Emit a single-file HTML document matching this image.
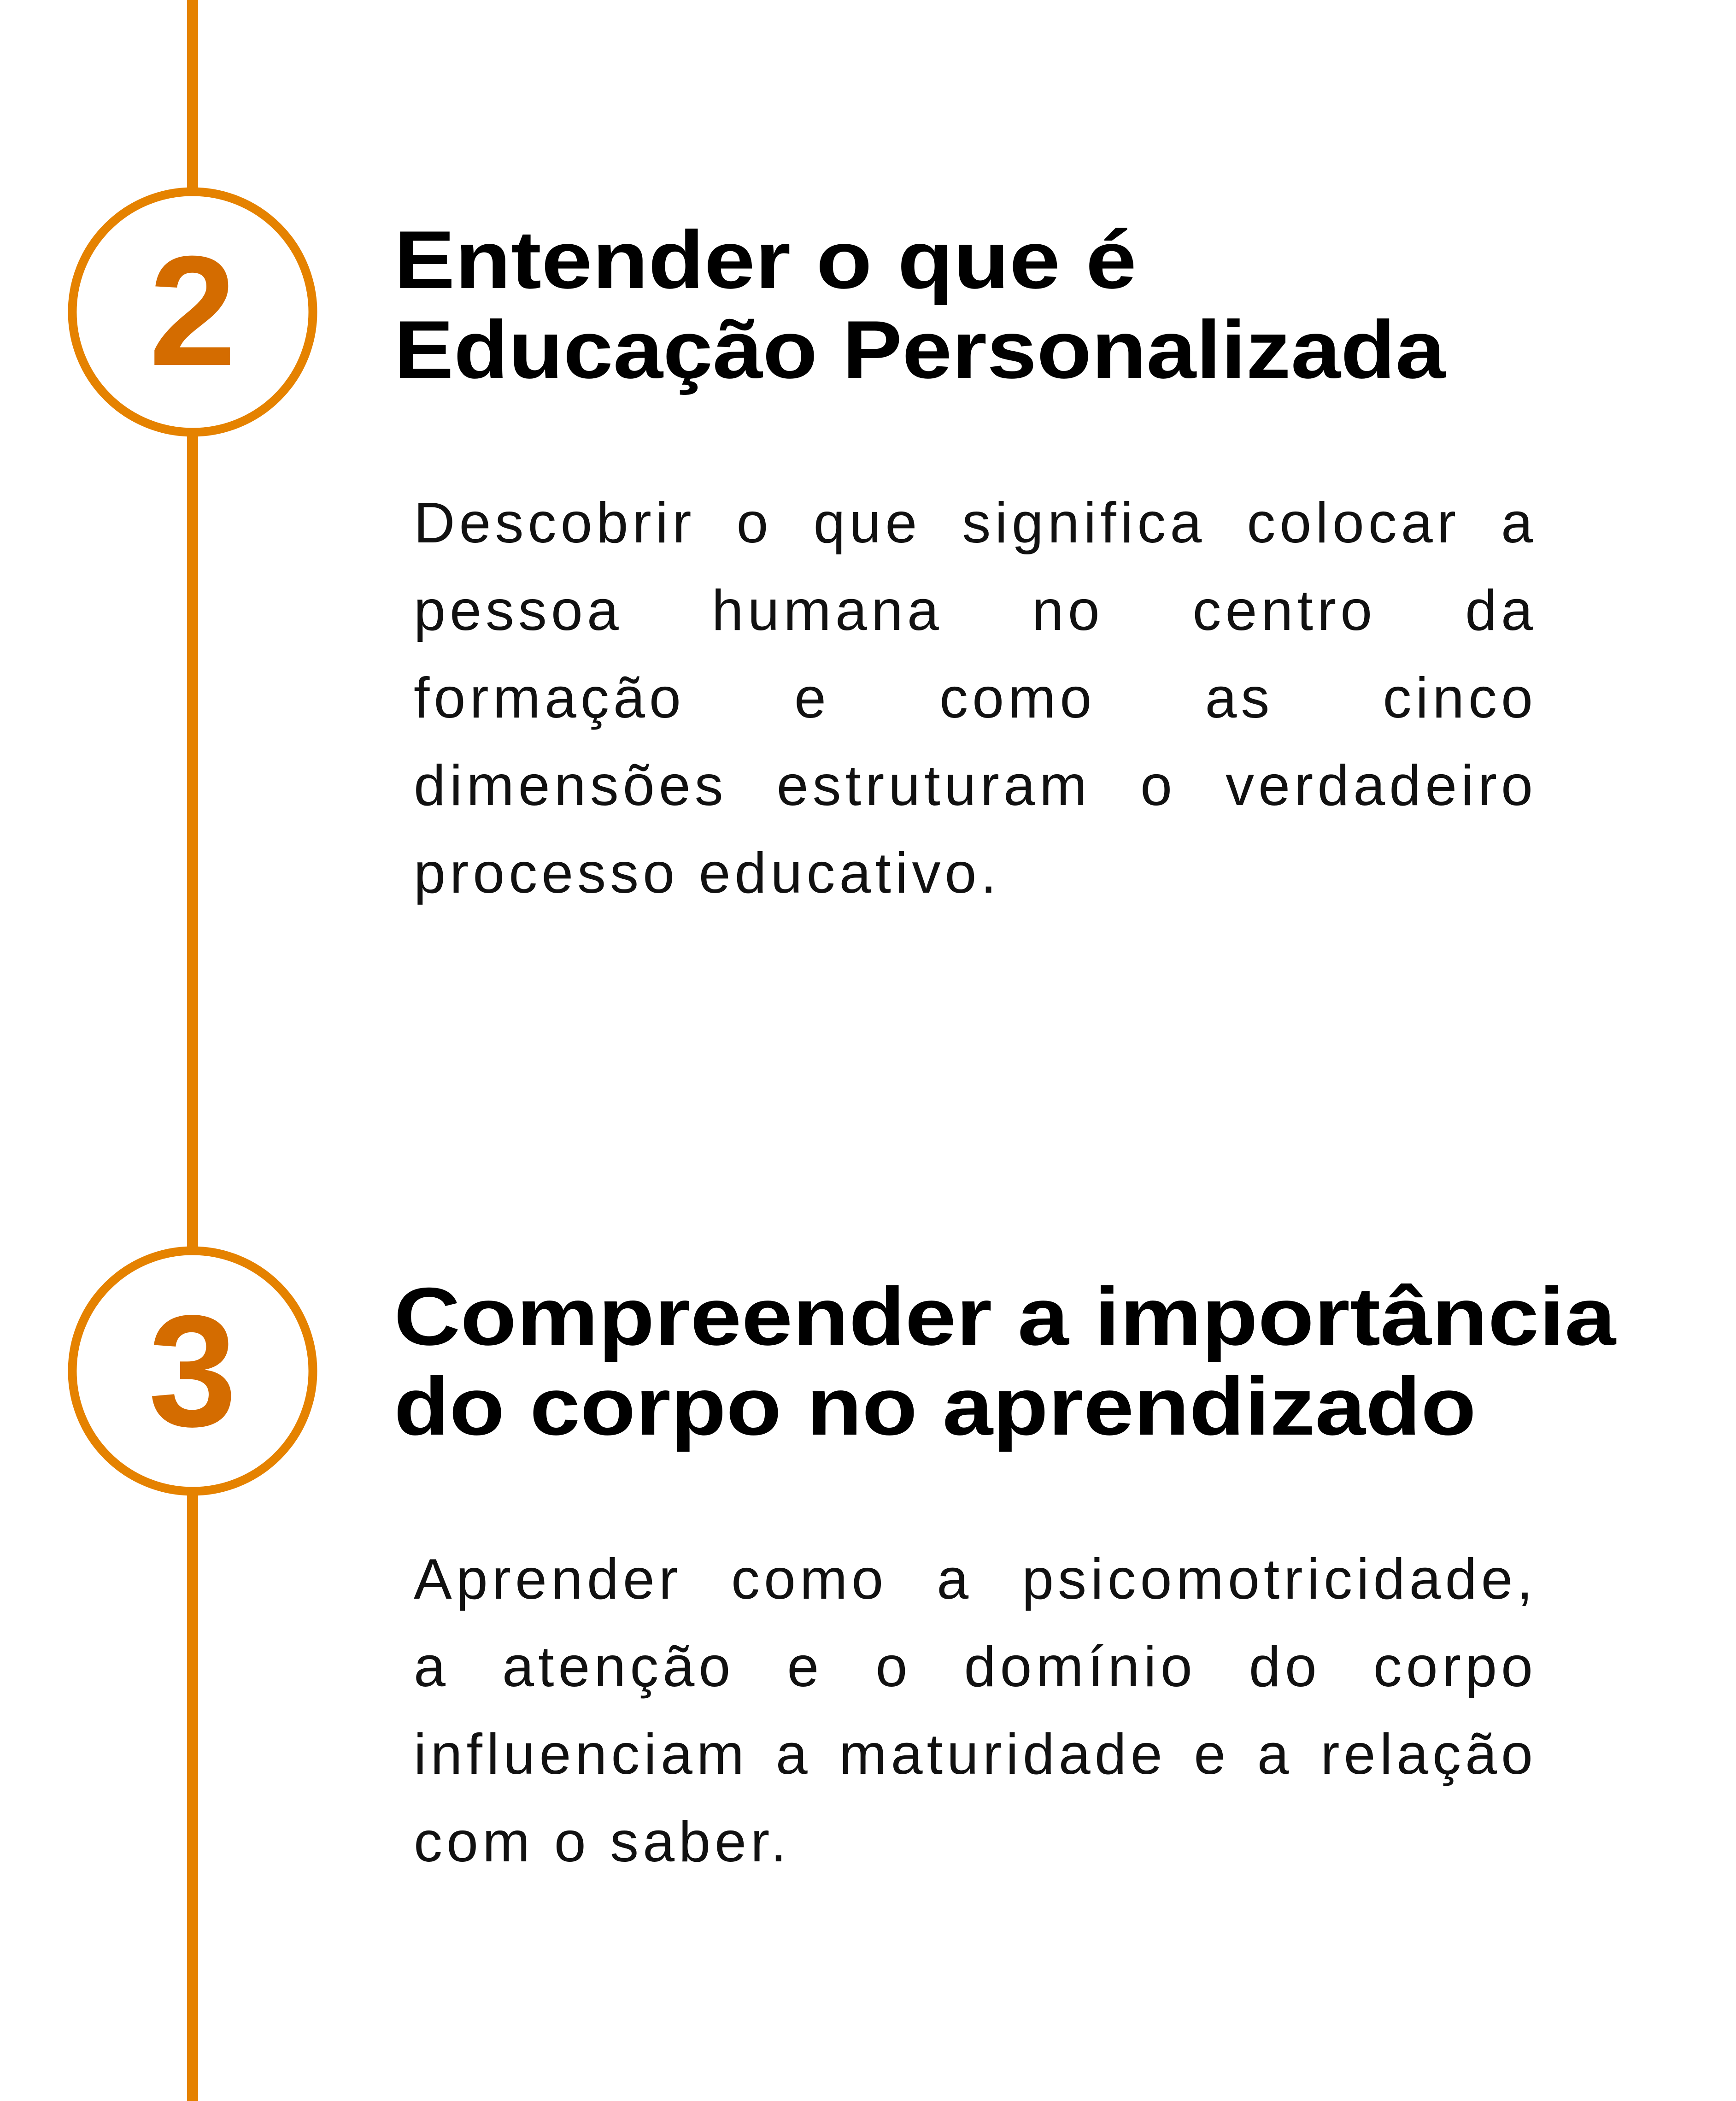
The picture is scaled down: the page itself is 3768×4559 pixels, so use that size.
<!DOCTYPE html>
<html><head><meta charset="utf-8">
<style>
html,body{margin:0;padding:0;background:#fff;}
body{width:3768px;height:4559px;position:relative;overflow:hidden;}
svg{position:absolute;left:0;top:0;}
.body{position:absolute;left:898px;width:2438px;font-family:"Liberation Sans",sans-serif;font-size:124px;color:#111;letter-spacing:9px;}
.body div{height:190px;line-height:190px;white-space:nowrap;}
.j{text-align:justify;text-align-last:justify;}
</style></head><body>
<svg width="3768" height="4559" viewBox="0 0 3768 4559">
<rect x="406" y="0" width="24" height="4559" fill="#E58200"/>
<circle cx="418" cy="677" r="261" fill="#fff" stroke="#E58200" stroke-width="19"/>
<circle cx="418" cy="2975" r="261" fill="#fff" stroke="#E58200" stroke-width="19"/>
<text x="418" y="792" text-anchor="middle" font-family="Liberation Sans, sans-serif" font-weight="bold" font-size="340" fill="#D46C00">2</text>
<text x="418" y="3094" text-anchor="middle" font-family="Liberation Sans, sans-serif" font-weight="bold" font-size="345" fill="#D46C00">3</text>
<g font-family="Liberation Sans, sans-serif" font-weight="bold" font-size="178" fill="#000">
<text x="855" y="625" textLength="1612" lengthAdjust="spacingAndGlyphs">Entender o que é</text>
<text x="855" y="820" textLength="2282" lengthAdjust="spacingAndGlyphs">Educação Personalizada</text>
<text x="855" y="2918" textLength="2652" lengthAdjust="spacingAndGlyphs">Compreender a importância</text>
<text x="855" y="3113" textLength="2349" lengthAdjust="spacingAndGlyphs">do corpo no aprendizado</text>
</g>
</svg>
<div class="body" style="top:1040px">
<div class="j">Descobrir o que significa colocar a</div>
<div class="j">pessoa humana no centro da</div>
<div class="j">formação e como as cinco</div>
<div class="j">dimensões estruturam o verdadeiro</div>
<div>processo educativo.</div>
</div>
<div class="body" style="top:3332px">
<div class="j">Aprender como a psicomotricidade,</div>
<div class="j">a atenção e o domínio do corpo</div>
<div class="j">influenciam a maturidade e a relação</div>
<div>com o saber.</div>
</div>
</body></html>
